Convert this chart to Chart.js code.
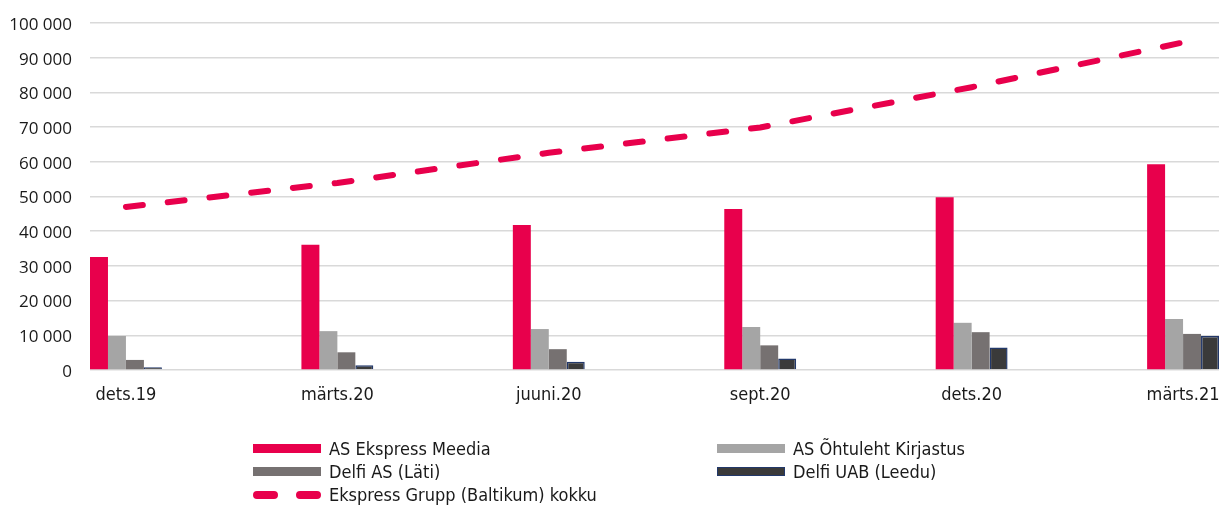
<!DOCTYPE html>
<html>
<head>
<meta charset="utf-8">
<script src="https://cdn.jsdelivr.net/npm/chart.js@4/dist/chart.umd.min.js"></script>
<style>
  html, body { margin: 0; padding: 0; background: #fff; }
  #wrap { position: relative; width: 1219px; height: 505px; }
  #legend {
    position: absolute; left: 253px; top: 437px;
    display: grid; grid-template-columns: 464px auto; grid-auto-rows: 23px;
    font-family: 'DejaVu Sans Condensed', 'DejaVu Sans', sans-serif; font-size: 18px; color: #1a1a1a;
  }
  .item { display: flex; align-items: center; white-space: nowrap; }
  .sw { width: 68px; height: 9px; margin-right: 8px; box-sizing: border-box; flex: none; }
  .sw svg { display: block; }
</style>
</head>
<body>
<div id="wrap">
  <canvas id="c" width="1219" height="505"></canvas>
  <div id="legend"></div>
</div>
<script>
const categories = ['dets.19', 'märts.20', 'juuni.20', 'sept.20', 'dets.20', 'märts.21'];
const ekspressMeedia = [32600, 36100, 41800, 46400, 49800, 59300];
const ohtulehtKirjastus = [9800, 11200, 11800, 12400, 13600, 14700];
const delfiLati = [2900, 5100, 6000, 7100, 10900, 10400];
const delfiLeedu = [800, 1400, 2400, 3300, 6500, 9800];
const grupiKokku = [47000, 53900, 62600, 69900, 81500, 94400];
const seriesNames = ['AS Ekspress Meedia', 'AS Õhtuleht Kirjastus', 'Delfi AS (Läti)', 'Delfi UAB (Leedu)', 'Ekspress Grupp (Baltikum) kokku'];
const yTicks = [0, 10000, 20000, 30000, 40000, 50000, 60000, 70000, 80000, 90000, 100000];

const toXY = arr => arr.map((v, i) => ({ x: i, y: v }));
const condensed = "'DejaVu Sans Condensed', 'DejaVu Sans', sans-serif";

const chart = new Chart(document.getElementById('c'), {
  data: {
    datasets: [
      { type: 'bar', label: seriesNames[0], data: toXY(ekspressMeedia), backgroundColor: '#E8004C', borderWidth: 0, order: 1 },
      { type: 'bar', label: seriesNames[1], data: toXY(ohtulehtKirjastus), backgroundColor: '#A5A5A5', borderWidth: 0, order: 1 },
      { type: 'bar', label: seriesNames[2], data: toXY(delfiLati), backgroundColor: '#767171', borderWidth: 0, order: 1 },
      { type: 'bar', label: seriesNames[3], data: toXY(delfiLeedu), backgroundColor: '#3A3A3A', borderColor: '#22386A', borderWidth: 1.5, order: 1 },
      { type: 'line', label: seriesNames[4], data: toXY(grupiKokku), borderColor: '#E8004C', borderWidth: 6,
        borderDash: [17, 25], borderCapStyle: 'round', pointRadius: 0, tension: 0, fill: false, order: 0 }
    ]
  },
  options: {
    responsive: false,
    animation: false,
    layout: { padding: { top: 23, left: 0, right: 0, bottom: 95 } },
    datasets: { bar: { categoryPercentage: 0.34, barPercentage: 1 } },
    plugins: { legend: { display: false }, tooltip: { enabled: false } },
    scales: {
      x: {
        type: 'linear', min: -0.17, max: 5.17, offset: false,
        grid: { display: false, drawTicks: false, offset: false },
        border: { display: false },
        afterBuildTicks: s => { s.ticks = categories.map((_, i) => ({ value: i })); },
        afterFit: s => { s.height = 40; s.paddingLeft = 0; s.paddingRight = 0; },
        ticks: {
          autoSkip: false, maxRotation: 0, padding: 15, color: '#1a1a1a',
          font: { family: condensed, size: 18 },
          callback: v => categories[v]
        }
      },
      y: {
        type: 'linear', min: 0, max: 100000,
        grid: { color: '#D9D9D9', lineWidth: 1.5, drawTicks: false },
        border: { display: false },
        afterBuildTicks: s => { s.ticks = yTicks.map(v => ({ value: v })); },
        afterFit: s => { s.width = 90; s.paddingTop = 0; s.paddingBottom = 0; },
        ticks: {
          padding: 18, color: '#1a1a1a', labelOffset: 2,
          font: { family: "'Open Sans', sans-serif", size: 17 },
          callback: v => String(v).replace(/\B(?=(\d{3})+(?!\d))/g, ' ')
        }
      }
    }
  }
});

// HTML legend built from the chart's datasets (two columns)
const legend = document.getElementById('legend');
chart.data.datasets.forEach(ds => {
  const item = document.createElement('div');
  item.className = 'item';
  const sw = document.createElement('div');
  sw.className = 'sw';
  if (ds.type === 'line') {
    sw.style.height = '10px';
    sw.innerHTML = '<svg width="68" height="10"><line x1="4" y1="5" x2="68" y2="5" stroke="' + ds.borderColor +
      '" stroke-width="8" stroke-linecap="round" stroke-dasharray="17 26"/></svg>';
  } else {
    sw.style.background = ds.backgroundColor;
    if (ds.borderWidth) sw.style.border = '1.5px solid ' + ds.borderColor;
  }
  const t = document.createElement('span');
  t.textContent = ds.label;
  item.appendChild(sw);
  item.appendChild(t);
  legend.appendChild(item);
});
</script>
</body>
</html>
